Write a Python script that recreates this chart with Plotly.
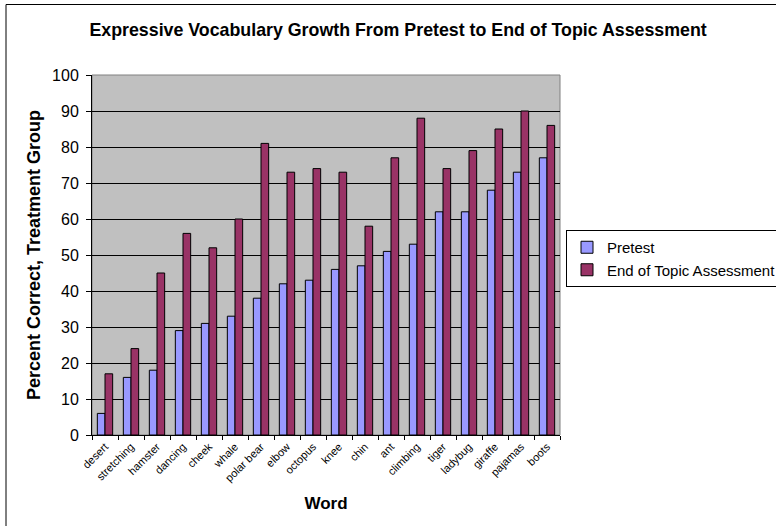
import plotly.graph_objects as go

words = ["desert", "stretching", "hamster", "dancing", "cheek", "whale", "polar bear",
         "elbow", "octopus", "knee", "chin", "ant", "climbing", "tiger", "ladybug",
         "giraffe", "pajamas", "boots"]
pretest = [6, 16, 18, 29, 31, 33, 38, 42, 43, 46, 47, 51, 53, 62, 62, 68, 73, 77]
end_of_topic = [17, 24, 45, 56, 52, 60, 81, 73, 74, 73, 58, 77, 88, 74, 79, 85, 90, 86]
y_ticks = list(range(0, 101, 10))

FONT = "Liberation Sans, Arial, sans-serif"

fig = go.Figure()
fig.add_trace(go.Bar(x=words, y=pretest, name="Pretest",
                     marker=dict(color="#9999FF", line=dict(color="black", width=1))))
fig.add_trace(go.Bar(x=words, y=end_of_topic, name="End of Topic Assessment",
                     marker=dict(color="#993366", line=dict(color="black", width=1))))

fig.update_layout(
    width=776, height=526,
    margin=dict(l=92, r=216, t=75, b=91, autoexpand=False),
    paper_bgcolor="white",
    plot_bgcolor="#C0C0C0",
    barmode="group",
    bargap=0.41,
    bargroupgap=0,
    font=dict(family=FONT, color="black"),
    title=dict(text="<b>Expressive Vocabulary Growth From Pretest to End of Topic Assessment</b>",
               x=0.513, xanchor="center", y=0.943, yanchor="middle",
               font=dict(size=17.8, color="black")),
    legend=dict(x=(566 - 92) / 468, xanchor="left", y=(435 - 230) / 360, yanchor="top",
                bordercolor="black", borderwidth=1, bgcolor="white",
                font=dict(size=15, color="black"), itemwidth=30, tracegroupgap=0),
    xaxis=dict(
        type="category",
        tickangle=-45,
        tickfont=dict(size=11, color="black"),
        ticks="outside", ticklen=4, tickcolor="black",
        tickson="boundaries",
        showline=True, linecolor="black", linewidth=1,
        showgrid=False,
        title=dict(text="<b>Word</b>", font=dict(size=17, color="black"), standoff=14),
    ),
    yaxis=dict(
        range=[0, 100],
        tickvals=y_ticks,
        tickfont=dict(size=16, color="black"),
        ticks="outside", ticklen=5, tickcolor="black",
        ticklabelstandoff=4,
        showline=True, linecolor="black", linewidth=1,
        showgrid=True, gridcolor="black", gridwidth=1,
        zeroline=False,
        title=dict(text="<b>Percent Correct, Treatment Group</b>",
                   font=dict(size=18, color="black"), standoff=6),
    ),
    shapes=[
        # gray frame around the plotting area
        dict(type="rect", xref="paper", yref="paper", x0=0, y0=0, x1=1, y1=1,
             line=dict(color="#808080", width=1), layer="below"),
        # outer chart border (open on the right and bottom edges of the page)
        dict(type="rect", xref="paper", yref="paper",
             x0=(6 - 92) / 468, y0=(435 - 540) / 360,
             x1=(790 - 92) / 468, y1=(435 - 4.5) / 360,
             line=dict(color="black", width=1)),
    ],
)

fig.write_html("out.html")
